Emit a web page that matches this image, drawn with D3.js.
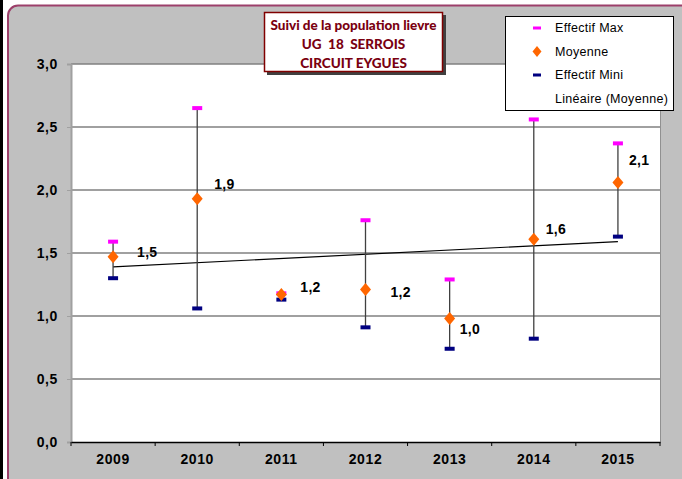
<!DOCTYPE html>
<html>
<head>
<meta charset="utf-8">
<script src="https://cdn.jsdelivr.net/npm/d3@7"></script>
<style>
  body { margin: 0; background: #fff; }
  svg { display: block; }
</style>
</head>
<body>
<svg width="682" height="479"></svg>
<script>
// data
var years = ["2009", "2010", "2011", "2012", "2013", "2014", "2015"];
var effectifMax = [1.59, 2.65, 1.18, 1.76, 1.29, 2.56, 2.37];
var moyenne = [1.47, 1.93, 1.17, 1.21, 0.98, 1.61, 2.06];
var effectifMini = [1.30, 1.06, 1.13, 0.91, 0.74, 0.82, 1.63];
var yTicks = [0, 0.5, 1, 1.5, 2, 2.5, 3];
var titleLines = ["Suivi de la population lievre", "UG  18  SERROIS", "CIRCUIT EYGUES"];

// hand placed value labels (layout only)
var labelDx = [24, 17, 19, 25, 10, 12, 11];
var labelDy = [-5, -15, -7, 3, 11, -10, -22];

var svg = d3.select("svg");
var fmt = function (v) { return d3.format(".1f")(v).replace(".", ","); };

// outer frame
svg.append("rect").attr("x", 0).attr("y", 0).attr("width", 682).attr("height", 479).attr("fill", "#fff");
svg.append("rect").attr("x", 0).attr("y", 0).attr("width", 3).attr("height", 479).attr("fill", "#000");
svg.append("rect")
  .attr("x", 8).attr("y", 5.5).attr("width", 690).attr("height", 500).attr("rx", 10)
  .attr("fill", "#c0c0c0").attr("stroke", "#9c3f6a").attr("stroke-width", 2);

var margin = { left: 71, right: 22, top: 64, bottom: 37 };
var width = 682 - margin.left - margin.right,
  height = 479 - margin.top - margin.bottom;

var x = d3.scaleBand().domain(years).range([margin.left, margin.left + width]);
var y = d3.scaleLinear().domain([0, 3]).range([margin.top + height, margin.top]);

// plot area
svg.append("rect")
  .attr("x", margin.left).attr("y", margin.top)
  .attr("width", width).attr("height", height)
  .attr("fill", "#fff");

svg.append("g").selectAll("line")
  .data(yTicks.filter(function (d) { return d > 0; }))
  .enter().append("line")
  .attr("x1", margin.left).attr("x2", margin.left + width)
  .attr("y1", function (d) { return y(d); }).attr("y2", function (d) { return y(d); })
  .attr("stroke", "#808080").attr("stroke-width", 1.3);

svg.append("line")
  .attr("x1", margin.left + width + 0.5).attr("x2", margin.left + width + 0.5)
  .attr("y1", margin.top).attr("y2", margin.top + height)
  .attr("stroke", "#909090");

var tickFont = function (sel) {
  sel.attr("font-family", "Liberation Sans, Arial, sans-serif")
    .attr("font-weight", "bold").attr("font-size", "14px").attr("letter-spacing", "0.6px").attr("fill", "#000");
};

// y axis
var yAxis = svg.append("g")
  .attr("transform", "translate(" + margin.left + ",0)")
  .call(d3.axisLeft(y).tickValues(yTicks).tickFormat(fmt).tickSize(4).tickPadding(9));
yAxis.select(".domain").attr("stroke", "#a0a0a0").attr("stroke-width", 2);
yAxis.selectAll(".tick line").attr("stroke", "#a0a0a0");
yAxis.selectAll("text").call(tickFont);

// x axis
var xAxis = svg.append("g")
  .attr("transform", "translate(0," + (margin.top + height) + ")")
  .call(d3.axisBottom(x).tickSize(0).tickPadding(12));
xAxis.select(".domain").attr("stroke", "#000").attr("stroke-width", 1.5);
xAxis.selectAll("text").call(tickFont);

// category separators under the x axis
var edges = years.map(function (d) { return x(d); }).concat([margin.left + width]);
svg.append("g").selectAll("line")
  .data(edges)
  .enter().append("line")
  .attr("x1", function (d) { return d; }).attr("x2", function (d) { return d; })
  .attr("y1", margin.top + height).attr("y2", margin.top + height + 4)
  .attr("stroke", "#000");

var cx = function (i) { return x(years[i]) + x.bandwidth() / 2; };

// trend line: least squares on the means
var n = moyenne.length;
var mx = d3.mean(d3.range(n)), my = d3.mean(moyenne);
var slope = d3.sum(d3.range(n), function (i) { return (i - mx) * (moyenne[i] - my); }) /
  d3.sum(d3.range(n), function (i) { return (i - mx) * (i - mx); });
var icpt = my - slope * mx;
svg.append("line")
  .attr("x1", cx(0)).attr("y1", y(icpt))
  .attr("x2", cx(n - 1)).attr("y2", y(icpt + slope * (n - 1)))
  .attr("stroke", "#000").attr("stroke-width", 1.2);

// min-max bars
svg.append("g").selectAll("line")
  .data(years)
  .enter().append("line")
  .attr("x1", function (d, i) { return cx(i); }).attr("x2", function (d, i) { return cx(i); })
  .attr("y1", function (d, i) { return y(effectifMax[i]); })
  .attr("y2", function (d, i) { return y(effectifMini[i]); })
  .attr("stroke", "#404040").attr("stroke-width", 1.3);

function dash(vals, color) {
  svg.append("g").selectAll("rect")
    .data(vals)
    .enter().append("rect")
    .attr("x", function (d, i) { return cx(i) - 5; })
    .attr("y", function (d) { return y(d) - 2; })
    .attr("width", 10).attr("height", 4)
    .attr("fill", color);
}
dash(effectifMax, "#ff00ff");
dash(effectifMini, "#000080");

// Excel style diamond
var diamondPath = function (w, h) {
  return "M0," + (-h) + "L" + w + ",0L0," + h + "L" + (-w) + ",0Z";
};
svg.append("g").selectAll("path")
  .data(moyenne)
  .enter().append("path")
  .attr("d", diamondPath(5.5, 6.5))
  .attr("transform", function (d, i) { return "translate(" + cx(i) + "," + y(d) + ")"; })
  .attr("fill", "#ff6600");

// value labels
svg.append("g").selectAll("text")
  .data(moyenne)
  .enter().append("text")
  .attr("x", function (d, i) { return cx(i) + labelDx[i]; })
  .attr("y", function (d, i) { return y(d) + labelDy[i]; })
  .attr("dy", "0.35em")
  .attr("font-family", "Liberation Sans, Arial, sans-serif")
  .attr("font-weight", "bold").attr("font-size", "14px").attr("letter-spacing", "0.3px")
  .text(fmt);

// title box
var tb = svg.append("g");
tb.append("rect").attr("x", 267).attr("y", 15).attr("width", 179).attr("height", 60).attr("fill", "#404040");
tb.append("rect").attr("x", 264.5).attr("y", 12.5).attr("width", 178).attr("height", 59)
  .attr("fill", "#fff").attr("stroke", "#800000").attr("stroke-width", 1.5);
tb.selectAll("text")
  .data(titleLines)
  .enter().append("text")
  .attr("x", 353.5)
  .attr("y", function (d, i) { return 25 + i * 19; })
  .attr("dy", "0.35em")
  .attr("text-anchor", "middle")
  .attr("font-family", "Lato, Open Sans, sans-serif")
  .attr("font-weight", "900").attr("font-size", "13.5px")
  .attr("fill", "#7a0010")
  .style("white-space", "pre")
  .text(function (d) { return d; });

// legend
var legendNames = ["Effectif Max", "Moyenne", "Effectif Mini", "Linéaire (Moyenne)"];
var lg = svg.append("g");
lg.append("rect").attr("x", 505.5).attr("y", 16.5).attr("width", 168).attr("height", 94)
  .attr("fill", "#fff").attr("stroke", "#000");
var ly = function (i) { return 28 + i * 23.5; };
lg.selectAll("text")
  .data(legendNames)
  .enter().append("text")
  .attr("x", 555).attr("y", function (d, i) { return ly(i); })
  .attr("dy", "0.35em")
  .attr("font-family", "Liberation Sans, Arial, sans-serif")
  .attr("font-size", "12.5px").attr("letter-spacing", "0.3px")
  .text(function (d) { return d; });
lg.append("rect").attr("x", 533).attr("y", ly(0) - 1.5).attr("width", 8).attr("height", 3).attr("fill", "#ff00ff");
lg.append("path").attr("d", diamondPath(4.5, 5.5))
  .attr("transform", "translate(537," + ly(1) + ")").attr("fill", "#ff6600");
lg.append("rect").attr("x", 533).attr("y", ly(2) - 1.5).attr("width", 8).attr("height", 3).attr("fill", "#000080");
</script>
</body>
</html>
